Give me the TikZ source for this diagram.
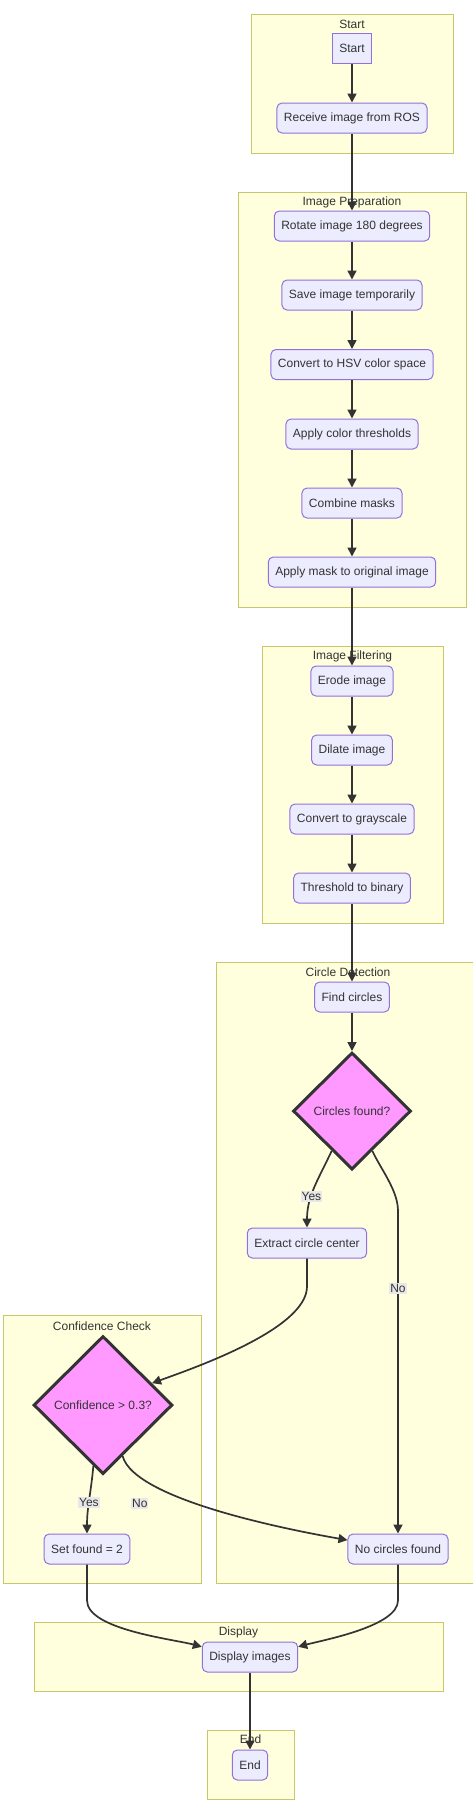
\documentclass[tikz,border=0pt]{standalone}
\usepackage{fontspec}
\setmainfont{Liberation Sans}
\usetikzlibrary{shapes.geometric,arrows.meta,calc}

\definecolor{clfill}{HTML}{FFFFDE}
\definecolor{clline}{HTML}{C8C86A}
\definecolor{boxfill}{HTML}{ECECFF}
\definecolor{boxline}{HTML}{9370DB}
\definecolor{decfill}{HTML}{FF99FF}
\definecolor{ink}{HTML}{333333}
\definecolor{lblfill}{HTML}{E8E8E8}

\tikzset{
  cluster/.style={draw=clline, fill=clfill, line width=1pt},
  ctitle/.style={text=ink, inner sep=0pt},
  proc/.style={draw=boxline, fill=boxfill, line width=1pt, rounded corners=5pt,
    text=ink, minimum height=30pt, inner xsep=7pt, inner ysep=0pt},
  startbox/.style={proc, sharp corners},
  decision/.style={diamond, aspect=1, draw=ink, fill=decfill, line width=3pt,
    text=ink, inner sep=0pt},
  flow/.style={draw=ink, line width=1.7pt, -{Triangle[length=9pt,width=9pt]}},
  lbl/.style={fill=lblfill, text=ink, inner xsep=1pt, inner ysep=1.5pt}
}

\begin{document}
\begin{tikzpicture}[x=1pt, y=-1pt, every node/.style={font=\fontsize{12}{14}\selectfont}]
    \useasboundingbox (0,0) rectangle (472,1800);
    \fill[white] (0,0) rectangle (472,1800);
    % subgraph boxes
    \draw[cluster] (251,14) rectangle (453,153);% start
    \node[ctitle] (tstart) at (352,24) {Start};
    \draw[cluster] (238,192) rectangle (466,607);% preparation
    \node[ctitle] (tprep) at (352,202) {Image Preparation};
    \draw[cluster] (262,646) rectangle (443,923);% filtering
    \node[ctitle] (tfilt) at (352.5,656) {Image Filtering};
    \draw[cluster] (216,962) rectangle (480,1583);% detection
    \node[ctitle] (tdet) at (348,972) {Circle Detection};
    \draw[cluster] (3,1315) rectangle (201,1583);% confidence
    \node[ctitle] (tconf) at (102,1326) {Confidence Check};
    \draw[cluster] (34,1622) rectangle (443,1691);% display
    \node[ctitle] (tdisp) at (238.5,1632) {Display};
    \draw[cluster] (207,1730) rectangle (294,1799);% end
    \node[ctitle] (tend) at (250.5,1739) {End};
    % steps
    \node[startbox] (start) at (352,48.5) {Start};
    \node[proc] (recv) at (352,118) {Receive image from ROS};
    \node[proc] (rot) at (352,226) {Rotate image 180 degrees};
    \node[proc] (save) at (352,295) {Save image temporarily};
    \node[proc] (hsv) at (352,364.5) {Convert to HSV color space};
    \node[proc] (thr) at (352,434) {Apply color thresholds};
    \node[proc] (comb) at (352,503) {Combine masks};
    \node[proc] (mask) at (352,572) {Apply mask to original image};
    \node[proc] (erode) at (352,681) {Erode image};
    \node[proc] (dilate) at (352,750) {Dilate image};
    \node[proc] (gray) at (352,819) {Convert to grayscale};
    \node[proc] (bin) at (352,888) {Threshold to binary};
    \node[proc] (find) at (352,997) {Find circles};
    \node[decision, minimum width=118pt, minimum height=117pt] (cdia) at (352,1111) {Circles found?};
    \node[proc] (extract) at (307,1243) {Extract circle center};
    \node[proc] (nocirc) at (398,1549) {No circles found};
    \node[decision, minimum width=139pt, minimum height=138pt] (kdia) at (103,1405) {Confidence > 0.3?};
    \node[proc] (setf) at (87,1549) {Set found = 2};
    \node[proc] (disp) at (250,1657) {Display images};
    \node[proc] (endn) at (250,1765) {End};
    % straight links
    \draw[flow] (start) -- (recv);
    \draw[flow] (recv) -- (rot);
    \draw[flow] (rot) -- (save);
    \draw[flow] (save) -- (hsv);
    \draw[flow] (hsv) -- (thr);
    \draw[flow] (thr) -- (comb);
    \draw[flow] (comb) -- (mask);
    \draw[flow] (mask) -- (erode);
    \draw[flow] (erode) -- (dilate);
    \draw[flow] (dilate) -- (gray);
    \draw[flow] (gray) -- (bin);
    \draw[flow] (bin) -- (find);
    \draw[flow] (find) -- (cdia);
    % branches
    \draw[flow] (cdia.243) to[out=-115,in=90] node[lbl,pos=0.62] {Yes} (extract.north);
    \draw[flow] (cdia.297) to[out=-65,in=90,looseness=0.8] ($(nocirc.north |- cdia.297)+(0,60)$) -- node[lbl,pos=0.24] {No} (nocirc.north);
    \draw[flow] (extract.south) -- ++(0,28) to[out=-90,in=20,looseness=0.6] (kdia.24);
    \draw[flow] (kdia.261) to[out=-95,in=90] node[lbl,pos=0.55] {Yes} (setf.north);
    \draw[flow] (kdia.291) to[out=-75,in=170,looseness=0.5] node[lbl,pos=0.3,xshift=-28pt,yshift=-11pt] {No} (nocirc.170);
    \draw[flow] (setf.south) -- ++(0,36) to[out=-90,in=165,looseness=0.6] (disp.168);
    \draw[flow] (nocirc.south) -- ++(0,36) to[out=-90,in=15,looseness=0.6] (disp.12);
    \draw[flow] (disp) -- (endn);
  \end{tikzpicture}
\end{document}
